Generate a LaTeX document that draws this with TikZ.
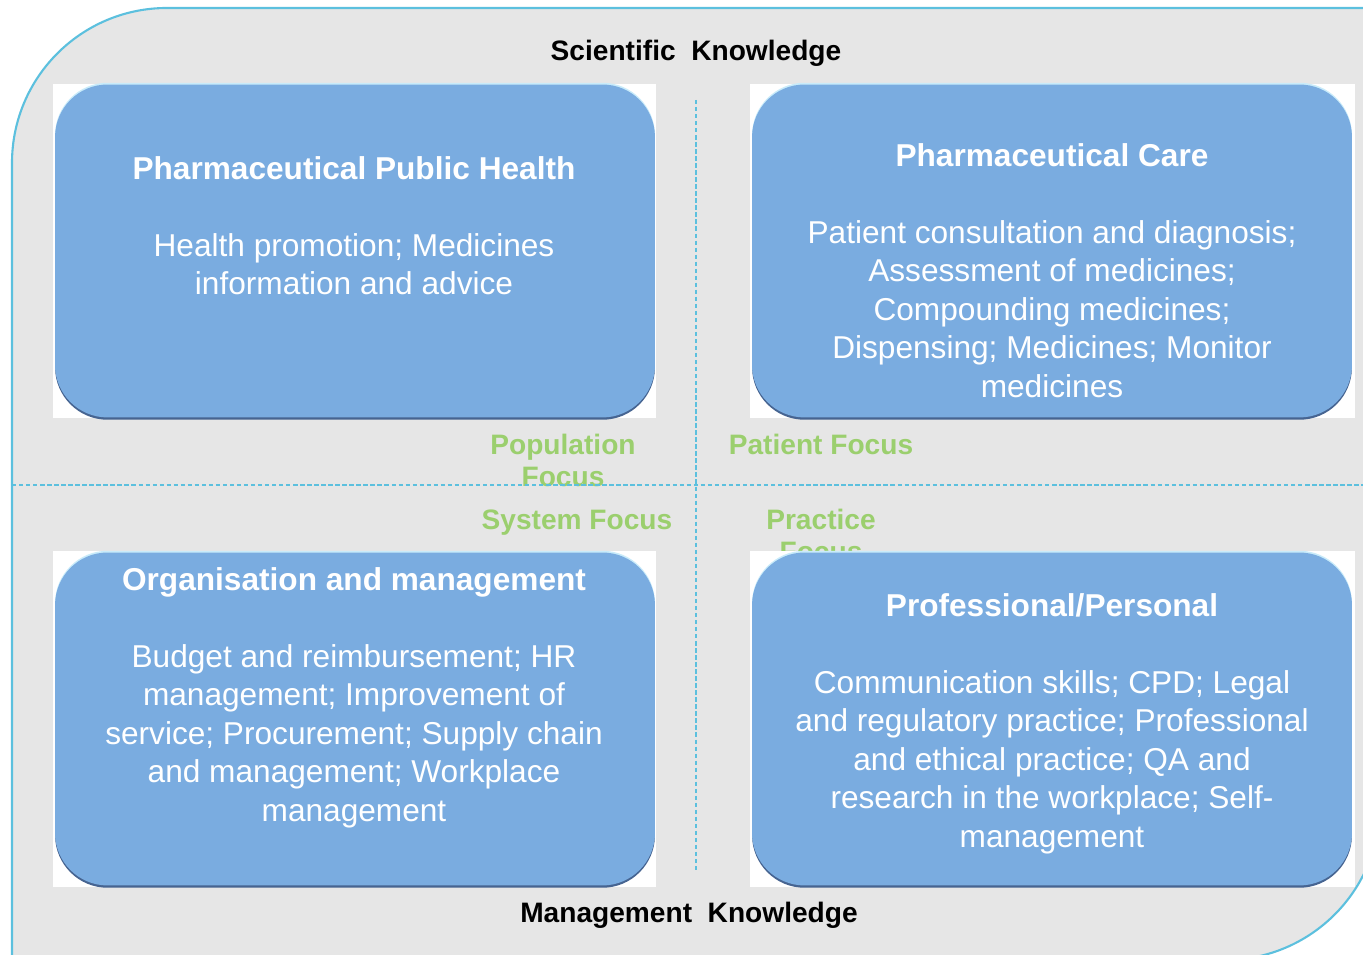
\documentclass[tikz,border=0pt]{standalone}
\usepackage{fontspec}
\setmainfont{Liberation Sans}
\definecolor{panelgray}{RGB}{230,230,230}
\definecolor{framecyan}{RGB}{92,192,222}
\definecolor{boxblue}{RGB}{122,172,224}
\definecolor{boxedge}{RGB}{70,100,145}
\definecolor{boxshine}{RGB}{200,235,250}
\definecolor{focusgreen}{RGB}{155,207,110}

\begin{document}
\begin{tikzpicture}[x=0.02cm, y=0.02cm,
  domainbox/.style={rectangle, rounded corners=1.05cm, fill=boxblue,
    minimum width=12cm, minimum height=6.66cm, inner sep=0pt,
    preaction={fill=boxedge, transform canvas={yshift=-1.3pt}},
    preaction={fill=boxshine, transform canvas={yshift=1pt}}},
  domaintext/.style={text=white, align=center, anchor=north, inner sep=0pt,
    font=\fontsize{18}{21.9}\selectfont},
  focuslabel/.style={text=focusgreen, align=center, inner sep=0pt,
    font=\fontsize{16}{18.7}\selectfont\bfseries},
  axislabel/.style={text=black, inner sep=0pt, font=\fontsize{16}{19}\selectfont\bfseries},
  divider/.style={draw=framecyan, line width=0.6pt, dash pattern=on 2.5pt off 1.5pt}]
\useasboundingbox (0, 0) rectangle (1363, 955);
\clip (0, 0) rectangle (1363, 955);

\filldraw [fill=panelgray, draw=framecyan, line width=1.2pt]
  (12, -5) -- (12, 792) arc [start angle=180, end angle=90, radius=155]
  -- (1380, 947) -- (1380, 150) arc [start angle=0, end angle=-90, radius=155] -- cycle;

\node [axislabel] (sci) at (696, 902) {Scientific\ \ Knowledge};
\node [axislabel] (mgmt) at (689, 40) {Management\ \ Knowledge};

\node [focuslabel] (population) at (563, 494.5) {Population\\Focus};
\node [focuslabel] (patient) at (821, 511) {Patient Focus};
\node [focuslabel] (system) at (577, 432) {System Focus};
\node [focuslabel] (practice) at (821, 419.5) {Practice\\Focus};

\draw [divider] (696, 855) -- (696, 85);
\draw [divider] (12, 470) -- (1363, 470);

\fill [white] (53, 537) rectangle (656, 871);
\fill [white] (750, 537) rectangle (1355, 871);
\fill [white] (53, 68) rectangle (656, 404);
\fill [white] (750, 68) rectangle (1355, 404);

\node [domainbox] (public) at (355, 704) {};
\node [domainbox] (care) at (1052, 704) {};
\node [domainbox] (organisation) at (355, 236) {};
\node [domainbox] (professional) at (1052, 236) {};

\node [domaintext] (public-text) at (354, 799)
  {\textbf{Pharmaceutical Public Health}\\[21.9pt]
   Health promotion; Medicines\\information and advice};
\node [domaintext] (care-text) at (1052, 812)
  {\textbf{Pharmaceutical Care}\\[21.9pt]
   Patient consultation and diagnosis;\\Assessment of medicines;\\
   Compounding medicines;\\Dispensing; Medicines; Monitor\\medicines};
\node [domaintext] (organisation-text) at (354, 388)
  {\textbf{Organisation and management}\\[21.9pt]
   Budget and reimbursement; HR\\management; Improvement of\\
   service; Procurement; Supply chain\\and management; Workplace\\management};
\node [domaintext] (professional-text) at (1052, 362)
  {\textbf{Professional/Personal}\\[21.9pt]
   Communication skills; CPD; Legal\\and regulatory practice; Professional\\
   and ethical practice; QA and\\research in the workplace; Self-\\management};
\end{tikzpicture}
\end{document}
